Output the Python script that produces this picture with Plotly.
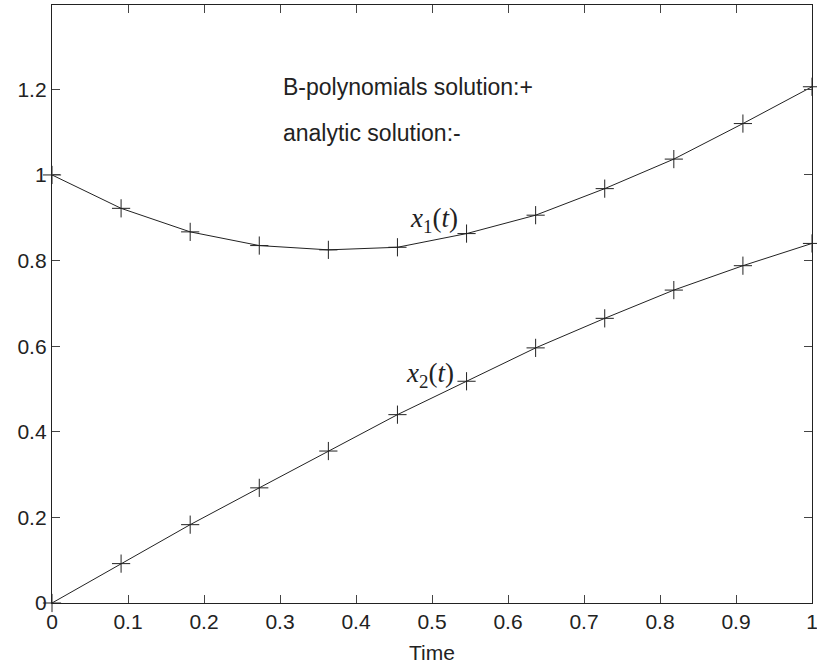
import plotly.graph_objects as go

t = [0, 1/11, 2/11, 3/11, 4/11, 5/11, 6/11, 7/11, 8/11, 9/11, 10/11, 1]
x1 = [1.000, 0.922, 0.867, 0.835, 0.825, 0.831, 0.863, 0.906, 0.968, 1.037, 1.120, 1.206]
x2 = [0.000, 0.092, 0.183, 0.269, 0.355, 0.440, 0.518, 0.596, 0.665, 0.731, 0.788, 0.840]

xticks = [0, 0.1, 0.2, 0.3, 0.4, 0.5, 0.6, 0.7, 0.8, 0.9, 1]
xticklabels = ["0", "0.1", "0.2", "0.3", "0.4", "0.5", "0.6", "0.7", "0.8", "0.9", "1"]
yticks = [0, 0.2, 0.4, 0.6, 0.8, 1.0, 1.2]
yticklabels = ["0", "0.2", "0.4", "0.6", "0.8", "1", "1.2"]

fig = go.Figure()
for ys in (x1, x2):
    fig.add_trace(go.Scatter(
        x=t, y=ys, mode="lines+markers",
        line=dict(color="#222222", width=1),
        marker=dict(symbol="cross-thin", size=13, line=dict(color="#222222", width=1)),
        showlegend=False, hoverinfo="skip", cliponaxis=False))

sans = "Liberation Sans, Arial, sans-serif"
serif = "Liberation Serif, Times New Roman, serif"
axis_common = dict(showline=True, linecolor="#222222", linewidth=1.3, mirror="allticks",
                   ticks="inside", ticklen=8, tickcolor="#444444", tickwidth=1,
                   showgrid=False, zeroline=False, ticklabeloverflow="allow",
                   automargin=False,
                   tickfont=dict(family=sans, size=21, color="#222222"))
fig.update_xaxes(range=[0, 1], tickvals=xticks, ticktext=xticklabels, **axis_common)
fig.update_yaxes(range=[0, 1.397], tickvals=yticks, ticktext=yticklabels, **axis_common)

ann = dict(showarrow=False, font=dict(family=sans, size=23, color="#222222"))
fig.add_annotation(x=0.301, y=1.206, text="B-polynomials solution:+", xanchor="left", yanchor="middle", **ann)
fig.add_annotation(x=0.301, y=1.098, text="analytic solution:-", xanchor="left", yanchor="middle", **ann)
fig.add_annotation(x=0.5, y=-0.082, xref="x domain", yref="y domain", text="Time",
                   xanchor="center", yanchor="middle", showarrow=False,
                   font=dict(family=sans, size=21, color="#222222"))

lab = dict(showarrow=False, font=dict(family=serif, size=27, color="#222222"),
           xanchor="center", yanchor="middle")
fig.add_annotation(x=0.502, y=0.895, text="<i>x</i><sub>1</sub>(<i>t</i>)", **lab)
fig.add_annotation(x=0.497, y=0.532, text="<i>x</i><sub>2</sub>(<i>t</i>)", **lab)

fig.update_layout(width=817, height=667, margin=dict(l=52, r=5, t=5, b=64, autoexpand=False),
                  paper_bgcolor="white", plot_bgcolor="white")
fig.write_html("out.html")
